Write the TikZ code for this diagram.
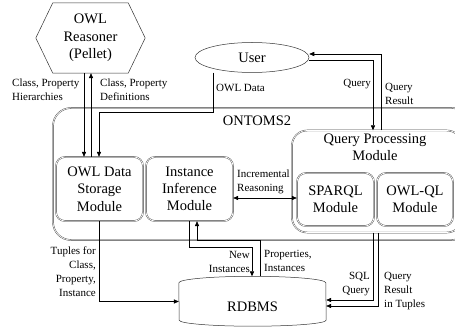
\documentclass[tikz,border=0pt]{standalone}
\usepackage{fontspec}
\setmainfont{Liberation Serif}
\usetikzlibrary{arrows.meta,shapes.geometric,calc}
\newcommand\boxfont{\fontsize{14.5}{17.3}\selectfont}
\newcommand\lblfont{\fontsize{11}{14}\selectfont}
\begin{document}
\begin{tikzpicture}[x=1pt,y=-1pt,
  box/.style={draw=black!75, double=white, double distance=0.7pt, line width=0.4pt,
    rounded corners=9pt, inner sep=0pt, align=center, font=\boxfont},
  plain/.style={draw=black!80, line width=0.5pt},
  txt/.style={inner sep=0pt, align=center, font=\boxfont},
  lbl/.style={inner sep=0pt, font=\lblfont},
  arr/.style={line width=0.6pt, -{Triangle[length=5pt,width=4.2pt]}},
  darr/.style={line width=0.6pt, {Triangle[length=5pt,width=4.2pt]}-{Triangle[length=5pt,width=4.2pt]}}]
\useasboundingbox (0,0) rectangle (455,331);

% reasoner (hexagon)
\node[txt, minimum width=75, minimum height=70] (hex) at (90.5,38) {OWL\\Reasoner\\(Pellet)};
\draw[plain] (hex.north west) -- (hex.north east) -- ([xshift=17pt]hex.east)
  -- (hex.south east) -- (hex.south west) -- ([xshift=-17pt]hex.west) -- cycle;

% user
\node[plain, ellipse, inner sep=0pt, minimum width=114, minimum height=30, font=\boxfont] (user) at (252,57.5) {User};

% ONTOMS2 container
\node[box, rounded corners=18pt, minimum width=417, minimum height=132] (onto) at (261.5,174) {};
\node[txt] (ontolbl) at (257,121) {ONTOMS2};

% modules
\node[box, minimum width=87, minimum height=64] (owl) at (99.5,189) {OWL Data\\Storage\\Module};
\node[box, minimum width=87, minimum height=64] (inst) at (189.5,189) {Instance\\Inference\\Module};
\node[box, rounded corners=15pt, minimum width=170, minimum height=102] (qp) at (377,181.5) {};
\node[txt] (qplbl) at (375,147.5) {Query Processing\\Module};
\node[box, minimum width=77, minimum height=53] (sparql) at (335.5,199.5) {SPARQL\\Module};
\node[box, minimum width=76, minimum height=53] (owlql) at (415,199.5) {OWL-QL\\Module};

% database cylinder
\node[inner sep=0pt, minimum width=147, minimum height=37] (rdb) at (252.5,301.5) {};
\draw[plain] (rdb.north west) arc[start angle=180, end angle=0, x radius=73.5pt, y radius=6.5pt]
  -- (rdb.south east) arc[start angle=0, end angle=-180, x radius=73.5pt, y radius=6pt] -- cycle;
\node[txt] (rdbtxt) at (252.5,307) {RDBMS};
\coordinate (rtop) at ([yshift=6.5pt]rdb.north);

% reasoner <-> storage
\coordinate (h1) at ([xshift=-6.5pt]hex.south);
\coordinate (h2) at ([xshift=0.5pt]hex.south);
\draw[arr] (h1) -- (h1 |- owl.north);
\draw[arr] (h2 |- owl.north) -- (h2);
\node[lbl, anchor=west, align=left] (lhier) at (12,90) {Class, Property\\Hierarchies};
\node[lbl, anchor=west, align=left] (ldef) at (100,90) {Class, Property\\Definitions};

% user -> storage
\coordinate (u1) at ([xshift=-39pt]user.south);
\draw[arr] (u1) -- ++(0,39.5) -| ([xshift=-0.5pt]owl.north);
\node[lbl, anchor=west] (lowl) at (216,88) {OWL Data};

% user <-> query processing
\draw[arr] ([yshift=-2.5pt]user.east) -| ([xshift=-4pt]qp.north);
\draw[arr] ([xshift=4pt]qp.north) |- ([yshift=3.5pt]user.east);
\node[lbl, anchor=east] (lq) at (371,84) {Query};
\node[lbl, anchor=west, align=left] (lqr) at (385,93.5) {Query\\Result};

% incremental reasoning
\coordinate (ir) at ([yshift=-9pt]inst.east);
\draw[darr] (ir) -- (ir -| sparql.west);
\node[lbl, anchor=west, align=left] (linc) at (237,182) {Incremental\\Reasoning};

% storage -> database
\draw[arr] ([xshift=-0.5pt]owl.south) |- (rdb.west);
\node[lbl, anchor=east, align=right] (ltup) at (96,271.5) {Tuples for\\Class,\\Property,\\Instance};

% inference <-> database
\draw[arr] ([xshift=-0.5pt]inst.south) -- ++(0,26) -| ([xshift=-0.5pt]rtop);
\draw[arr] ([xshift=7.5pt]rtop) -- ++(0,-36.5) -| ([xshift=7.5pt]inst.south);
\node[lbl, anchor=east, align=right] (lnew) at (250,261.5) {New\\Instances};
\node[lbl, anchor=west, align=left] (lprop) at (264,261) {Properties,\\Instances};

% query processing -> database
\draw[arr] ([xshift=-4pt]qp.south) |- ([yshift=1.5pt]rdb.east);
\draw[arr] ([xshift=1.5pt]qp.south) |- ([yshift=-4.5pt]rdb.east);
\node[lbl, anchor=east, align=right] (lsql) at (370,284.5) {SQL\\Query};
\node[lbl, anchor=west, align=left] (lqrt) at (384,291) {Query\\Result\\in Tuples};
\end{tikzpicture}
\end{document}
